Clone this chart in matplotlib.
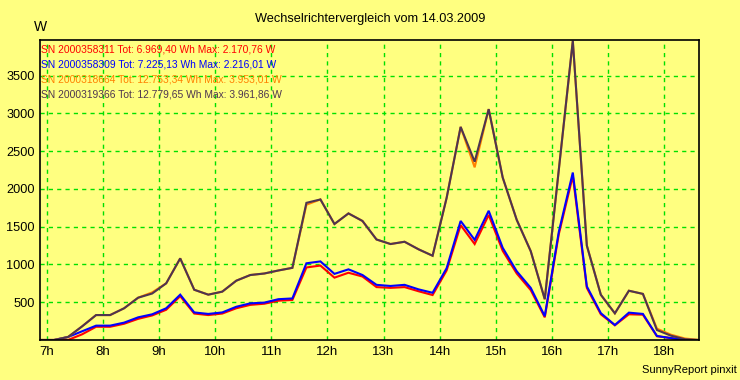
import numpy as np
import matplotlib
matplotlib.use('Agg')
import matplotlib.pyplot as plt

plt.rcParams['font.family'] = ['Liberation Sans', 'DejaVu Sans']

# quarter-hour readings, 06:52:30 .. 18:37:30
hours = np.arange(6.875, 18.626, 0.25)

red_w = [0, 0, 0, 75, 175, 175, 215, 280, 325, 400, 580, 350, 330, 350, 420, 465,
         480, 520, 530, 960, 985, 825, 890, 840, 700, 690, 700, 645, 595, 920, 1520, 1270,
         1655, 1180, 880, 660, 300, 1400, 2171, 690, 340, 195, 340, 335, 50, 25, 0, 0]
blue_w = [0, 0, 40, 115, 190, 190, 230, 300, 340, 420, 600, 365, 345, 365, 440, 485,
          495, 540, 550, 1015, 1040, 875, 935, 860, 730, 715, 730, 670, 625, 950, 1575, 1325,
          1710, 1220, 910, 690, 315, 1430, 2216, 710, 355, 198, 362, 345, 53, 25, 0, 0]
orange_w = [0, 0, 40, 180, 330, 330, 420, 560, 630, 750, 1080, 665, 600, 640, 785, 860,
            880, 920, 955, 1790, 1860, 1535, 1675, 1575, 1330, 1270, 1300, 1200, 1115, 1880, 2820, 2285,
            3055, 2150, 1590, 1175, 540, 2250, 3953, 1250, 598, 353, 652, 610, 150, 70, 20, 0]
dark_w = [0, 0, 40, 180, 330, 330, 420, 560, 615, 750, 1080, 665, 600, 640, 785, 860,
          880, 920, 955, 1815, 1860, 1535, 1675, 1575, 1330, 1270, 1300, 1200, 1115, 1880, 2820, 2360,
          3055, 2150, 1590, 1175, 540, 2250, 3962, 1250, 598, 353, 652, 610, 132, 57, 10, 0]

labels = ['SN 2000358311 Tot: 6.969,40 Wh Max: 2.170,76 W',
          'SN 2000358309 Tot: 7.225,13 Wh Max: 2.216,01 W',
          'SN 2000318664 Tot: 12.753,34 Wh Max: 3.953,01 W',
          'SN 2000319366 Tot: 12.779,65 Wh Max: 3.961,86 W']
colours = ['#ff0000', '#0000ff', '#ff8000', '#4d3550']

xticks = list(range(7, 19))
xticklabels = ['%dh' % h for h in xticks]
yticks = [500, 1000, 1500, 2000, 2500, 3000, 3500]

bg = '#ffff80'
fig = plt.figure(figsize=(7.4, 3.8), dpi=100, facecolor=bg)
ax = fig.add_axes([40 / 740, 1 - 340 / 380, 659 / 740, 300 / 380])
ax.set_facecolor(bg)

for series, c in zip([red_w, blue_w, orange_w, dark_w], colours):
    ax.plot(hours, series, color=c, lw=1.5, solid_joinstyle='miter')

ax.set_xlim(6.875, 18.625)
ax.set_ylim(0, 3970)
ax.set_xticks(xticks)
ax.set_xticklabels(xticklabels, fontsize=9.5)
ax.set_yticks(yticks)
ax.set_yticklabels([str(v) for v in yticks], fontsize=9.2)
ax.tick_params(length=0, pad=4)
ax.grid(True, color='#00e000', ls=(0, (3, 3)), lw=1)
for s in ax.spines.values():
    s.set_color('black')
    s.set_linewidth(1.2)

for i, (txt, c) in enumerate(zip(labels, colours)):
    ax.text(0.002, 0.97 - i * 0.051, txt, color=c, fontsize=7.4,
            transform=ax.transAxes, va='center', ha='left')

fig.text(370 / 740, 1 - 19 / 380, 'Wechselrichtervergleich vom 14.03.2009',
         ha='center', va='center', fontsize=9.2)
fig.text(41 / 740, 1 - 27 / 380, 'W', ha='center', va='center', fontsize=10)
fig.text(737 / 740, 1 - 370 / 380, 'SunnyReport pinxit', ha='right', va='center', fontsize=8)

fig.savefig('out.png', dpi=100, facecolor=bg)
